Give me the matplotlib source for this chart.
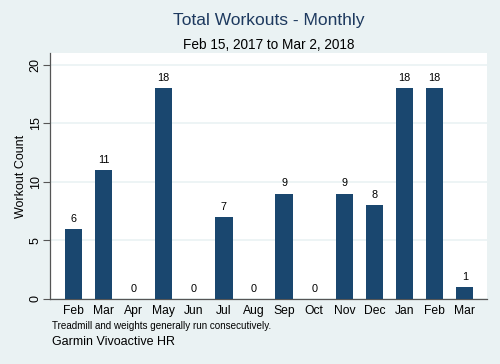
import numpy as np
import matplotlib.pyplot as plt

# monthly workout counts, Feb 2017 - Mar 2018
months = ["Feb", "Mar", "Apr", "May", "Jun", "Jul", "Aug", "Sep", "Oct",
          "Nov", "Dec", "Jan", "Feb", "Mar"]
counts = [6, 11, 0, 18, 0, 7, 0, 9, 0, 9, 8, 18, 18, 1]
yticks = [0, 5, 10, 15, 20]

plt.rcParams['font.family'] = ['Liberation Sans', 'DejaVu Sans']

bg = '#eaf2f3'
navy = '#1a476f'

fig = plt.figure(figsize=(5, 3.64), dpi=100, facecolor=bg)
ax = fig.add_axes([0.10, 0.1786, 0.874, 0.676])
ax.set_facecolor('white')

x = np.arange(len(months))
ax.bar(x, counts, width=0.58, color=navy, zorder=3)
for xi, c in zip(x, counts):
    ax.text(xi, c + 0.45, str(c), ha='center', va='bottom', fontsize=7.8, color='black')

ax.set_xlim(-0.78, len(months) - 0.26)
ax.set_ylim(0, 21.03)
ax.set_yticks(yticks)
ax.set_yticklabels([str(t) for t in yticks], rotation=90, va='center', fontsize=9)
ax.set_xticks(x)
ax.set_xticklabels(months, fontsize=8.7)
ax.tick_params(axis='x', length=0, pad=4)
ax.tick_params(axis='y', length=5, width=0.8, color='#555555', pad=1)
ax.grid(axis='y', color=bg, linewidth=1.2, zorder=0)
ax.set_ylabel("Workout Count", fontsize=9, labelpad=2)

for side in ['top', 'right']:
    ax.spines[side].set_visible(False)
for side in ['left', 'bottom']:
    ax.spines[side].set_color('#555555')
    ax.spines[side].set_linewidth(0.9)

fig.text(0.537, 0.945, "Total Workouts - Monthly", ha='center', va='center',
         fontsize=12.5, color='#1e3a5f')
fig.text(0.537, 0.877, "Feb 15, 2017 to Mar 2, 2018", ha='center', va='center',
         fontsize=9.8, color='black')
fig.text(0.104, 0.104, "Treadmill and weights generally run consecutively.",
         ha='left', va='center', fontsize=7.1, color='black')
fig.text(0.104, 0.06, "Garmin Vivoactive HR", ha='left', va='center',
         fontsize=9, color='black')

fig.savefig("out.png", dpi=100, facecolor=bg)
